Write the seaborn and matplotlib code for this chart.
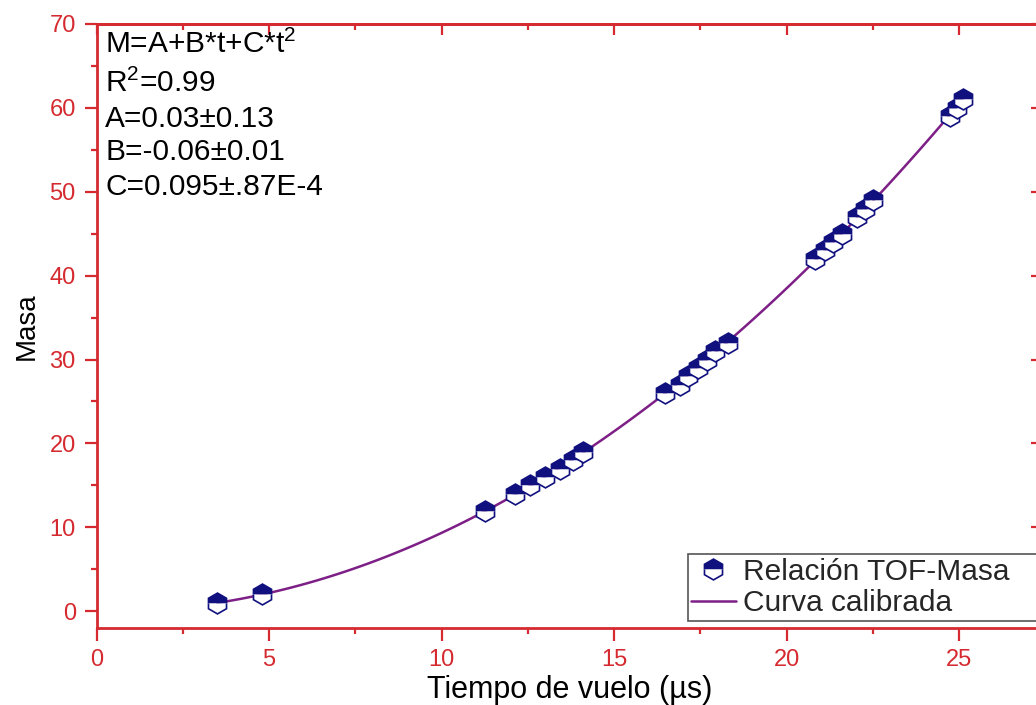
import numpy as np
import pandas as pd
import seaborn as sns
import matplotlib
matplotlib.use("Agg")
import matplotlib.pyplot as plt
from matplotlib.ticker import MultipleLocator

# tiempo de vuelo (us) y masa
tiempo = [3.5, 4.8, 11.26, 12.13, 12.56, 13.0, 13.43, 13.8, 14.1,
          16.47, 16.9, 17.14, 17.43, 17.69, 17.92, 18.3,
          20.82, 21.11, 21.34, 21.6, 22.03, 22.27, 22.5,
          24.73, 24.94, 25.1]
masa = [1, 2, 12, 14, 15, 16, 17, 18, 19,
        26, 27, 28, 29, 30, 31, 32,
        42, 43, 44, 45, 47, 48, 49,
        59, 60, 61]

ajuste = ["M=A+B*t+C*t$^2$", "R$^2$=0.99", "A=0.03±0.13",
          "B=-0.06±0.01", "C=0.095±.87E-4"]

df = pd.DataFrame({"t": tiempo, "M": masa})

RED = "#d42a30"
NAVY = "#10107e"
PURPLE = "#7d1f86"

sns.set_style("ticks")
plt.rcParams["font.family"] = ["Liberation Sans", "DejaVu Sans"]
plt.rcParams["mathtext.default"] = "regular"

fig = plt.figure(figsize=(10.36, 7.05), dpi=100)
ax = fig.add_axes([0.0933, 0.1092, 0.9125, 0.8568])

sns.regplot(data=df, x="t", y="M", order=2, ci=None, scatter=False, ax=ax,
            label="Curva calibrada",
            line_kws={"color": PURPLE, "lw": 1.8, "zorder": 2})
sns.lineplot(data=df, x="t", y="M", estimator=None, sort=False, ax=ax,
             linestyle="none", marker="h", markersize=15, fillstyle="top",
             color=NAVY, markerfacecolor=NAVY, markerfacecoloralt="white",
             markeredgecolor=NAVY, markeredgewidth=1.2, zorder=3,
             label="Relación TOF-Masa")

ax.set_xlim(0, 27.4)
ax.set_ylim(-2, 70)
ax.xaxis.set_major_locator(MultipleLocator(5))
ax.xaxis.set_minor_locator(MultipleLocator(2.5))
ax.yaxis.set_major_locator(MultipleLocator(10))
ax.yaxis.set_minor_locator(MultipleLocator(5))

for s in ax.spines.values():
    s.set_color(RED)
    s.set_linewidth(2)
    s.set_visible(True)

ax.tick_params(which="major", direction="out", length=9, width=1.6,
               color=RED, labelcolor=RED, labelsize=17, pad=6)
ax.tick_params(which="minor", direction="out", length=4.5, width=1.6, color=RED)

# ejes superior y derecho con marcas hacia dentro
top = ax.secondary_xaxis("top")
top.xaxis.set_major_locator(MultipleLocator(5))
top.xaxis.set_minor_locator(MultipleLocator(2.5))
top.tick_params(which="major", direction="in", length=8, width=1.6, color=RED,
                labeltop=False)
top.tick_params(which="minor", direction="in", length=4, width=1.6, color=RED)
top.spines["top"].set_color(RED)
top.spines["top"].set_linewidth(2)

right = ax.secondary_yaxis("right")
right.yaxis.set_major_locator(MultipleLocator(10))
right.yaxis.set_minor_locator(MultipleLocator(5))
right.tick_params(which="major", direction="in", length=8, width=1.6, color=RED,
                  labelright=False)
right.tick_params(which="minor", direction="in", length=4, width=1.6, color=RED)
right.spines["right"].set_color(RED)
right.spines["right"].set_linewidth(2)

ax.set_xlabel("Tiempo de vuelo (µs)", fontsize=22, color="black", labelpad=3)
ax.set_ylabel("Masa", fontsize=20, color="black", labelpad=7)

# texto del ajuste (lineas de base en px desde arriba)
base_px = [53, 92, 127, 160, 195]
for txt, yp in zip(ajuste, base_px):
    ax.text(0.009, (628 - yp) / 604, txt, transform=ax.transAxes,
            fontsize=21.5, color="black", va="baseline", ha="left")

handles, labels = ax.get_legend_handles_labels()
order = [labels.index("Relación TOF-Masa"), labels.index("Curva calibrada")]
leg = ax.legend([handles[i] for i in order], [labels[i] for i in order],
                loc="lower left", bbox_to_anchor=(0.625, 0.0116, 0.4, 0.1),
                mode="expand", borderaxespad=0, fontsize=21.5, frameon=True,
                fancybox=False, framealpha=1, edgecolor="#555555",
                handlelength=1.5, handletextpad=0.25, borderpad=0.12,
                labelspacing=0.12)
leg.get_frame().set_linewidth(1.2)

fig.savefig("out.png", dpi=100)
